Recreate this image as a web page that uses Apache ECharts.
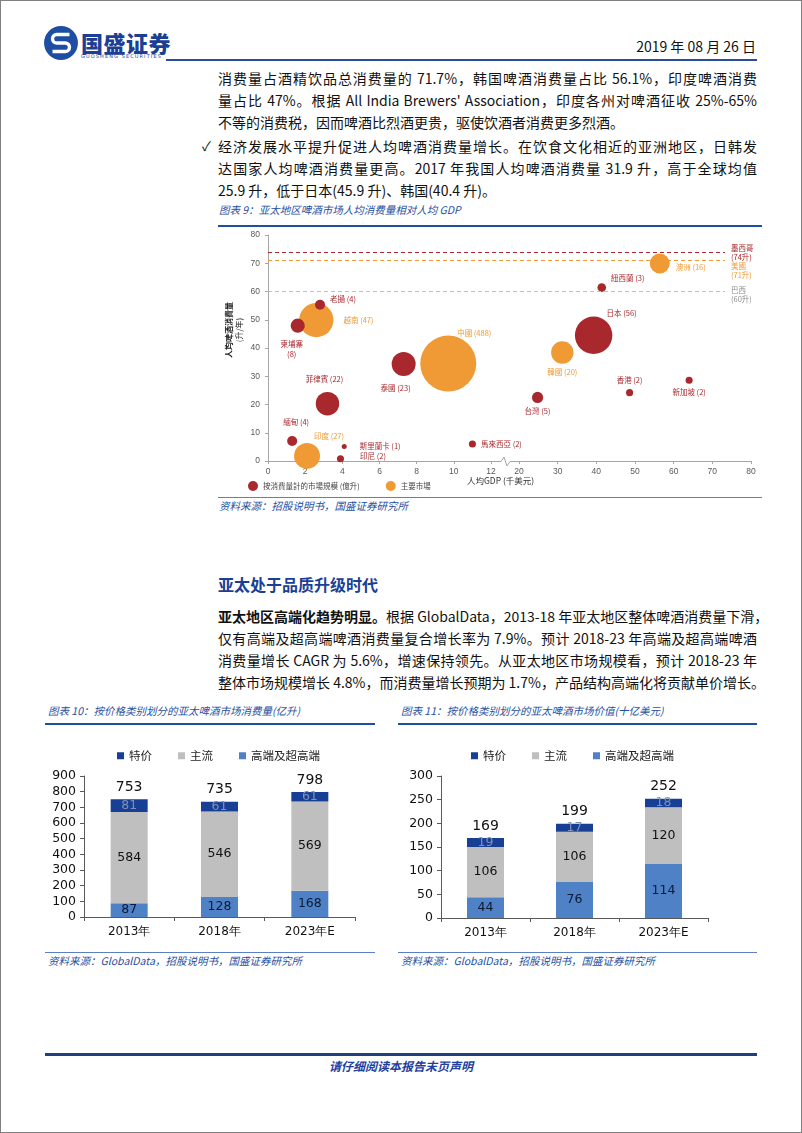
<!DOCTYPE html>
<html>
<head>
<meta charset="utf-8">
<script src="https://cdn.jsdelivr.net/npm/echarts@6/dist/echarts.min.js"></script>
<style>
  body { margin: 0; background: #fff; }
  .page { position: relative; width: 802px; height: 1133px; overflow: hidden;
          font-family: "Noto Sans CJK SC", sans-serif; color: #111; }
  .frame { position: absolute; left: 0; top: 0; width: 800px; height: 1131px; border: 1px solid #808080; }
  .abs { position: absolute; white-space: nowrap; }
  .txt { font-size: 14px; line-height: 20px; }
  .just { width: 539px; text-align: justify; text-align-last: justify; }
  .ftitle { font-size: 10.5px; line-height: 14px; color: #1f4f9f; font-style: italic; }
  .rule { position: absolute; background: #1f4f9f; }
  .chart { position: absolute; }
</style>
</head>
<body>
<div class="page">
  <div class="frame"></div>

  <!-- header -->
  <svg class="abs" style="left:43px;top:25px" width="36" height="36" viewBox="0 0 34 34">
    <circle cx="17" cy="17" r="16" fill="#1d4ea3"/>
    <path d="M25 9 H13 a4 4 0 0 0 0 8 H21 a4 4 0 0 1 0 8 H9" fill="none" stroke="#fff" stroke-width="3.2"/>
  </svg>
  <div class="abs" style="left:81px;top:26px;font-size:22px;font-weight:900;color:#1c3f94;letter-spacing:0.5px">国盛证券</div>
  <div class="abs" style="left:81px;top:53px;font-size:5px;color:#1c3f94;letter-spacing:1.1px;font-family:'DejaVu Sans'">GUOSHENG SECURITIES</div>
  <div class="abs txt" style="right:46px;top:36px;font-size:14px">2019 年 08 月 26 日</div>
  <div class="rule" style="left:166px;top:59px;width:591px;height:2px;background:#2a4c9c"></div>

  <!-- body text -->
  <div class="abs txt just" style="left:218px;top:68px">消费量占酒精饮品总消费量的 71.7%，韩国啤酒消费量占比 56.1%，印度啤酒消费</div>
  <div class="abs txt just" style="left:218px;top:90px">量占比 47%。根据 All India Brewers' Association，印度各州对啤酒征收 25%-65%</div>
  <div class="abs txt" style="left:218px;top:112px">不等的消费税，因而啤酒比烈酒更贵，驱使饮酒者消费更多烈酒。</div>
  <div class="abs txt" style="left:202px;top:136px;font-size:13px">✓</div>
  <div class="abs txt just" style="left:218px;top:136px">经济发展水平提升促进人均啤酒消费量增长。在饮食文化相近的亚洲地区，日韩发</div>
  <div class="abs txt just" style="left:218px;top:158px">达国家人均啤酒消费量更高。2017 年我国人均啤酒消费量 31.9 升，高于全球均值</div>
  <div class="abs txt" style="left:218px;top:180px">25.9 升，低于日本(45.9 升)、韩国(40.4 升)。</div>

  <!-- figure 9 -->
  <div class="abs ftitle" style="left:219px;top:203px">图表 9：亚太地区啤酒市场人均消费量相对人均 GDP</div>
  <div class="rule" style="left:218px;top:225px;width:544px;height:1.5px"></div>
  <div id="bubble" class="chart" style="left:210px;top:228px;width:560px;height:268px"></div>
  <div class="rule" style="left:218px;top:497px;width:544px;height:1px;background:#5b7fc0"></div>
  <div class="abs ftitle" style="left:219px;top:499px">资料来源：招股说明书，国盛证券研究所</div>

  <!-- section -->
  <div class="abs" style="left:218px;top:574px;font-size:16px;line-height:20px;font-weight:700;color:#1a3f94">亚太处于品质升级时代</div>
  <div class="abs txt just" style="left:218px;top:606px"><b>亚太地区高端化趋势明显。</b>根据 GlobalData，2013-18 年亚太地区整体啤酒消费量下滑，</div>
  <div class="abs txt just" style="left:218px;top:628px">仅有高端及超高端啤酒消费量复合增长率为 7.9%。预计 2018-23 年高端及超高端啤酒</div>
  <div class="abs txt just" style="left:218px;top:650px">消费量增长 CAGR 为 5.6%，增速保持领先。从亚太地区市场规模看，预计 2018-23 年</div>
  <div class="abs txt just" style="left:218px;top:672px">整体市场规模增长 4.8%，而消费量增长预期为 1.7%，产品结构高端化将贡献单价增长。</div>

  <!-- figure 10 / 11 -->
  <div class="abs ftitle" style="left:48px;top:704px">图表 10：按价格类别划分的亚太啤酒市场消费量(亿升)</div>
  <div class="rule" style="left:45px;top:723px;width:330px;height:1.5px"></div>
  <div id="vol" class="chart" style="left:40px;top:730px;width:345px;height:220px"></div>
  <div class="rule" style="left:45px;top:952px;width:330px;height:1px;background:#5b7fc0"></div>
  <div class="abs ftitle" style="left:48px;top:954px">资料来源：GlobalData，招股说明书，国盛证券研究所</div>

  <div class="abs ftitle" style="left:401px;top:704px">图表 11：按价格类别划分的亚太啤酒市场价值(十亿美元)</div>
  <div class="rule" style="left:398px;top:723px;width:359px;height:1.5px"></div>
  <div id="val" class="chart" style="left:395px;top:730px;width:345px;height:220px"></div>
  <div class="rule" style="left:398px;top:952px;width:359px;height:1px;background:#5b7fc0"></div>
  <div class="abs ftitle" style="left:401px;top:954px">资料来源：GlobalData，招股说明书，国盛证券研究所</div>

  <!-- footer -->
  <div class="rule" style="left:45px;top:1053px;width:712px;height:3px;background:#1f3f7f"></div>
  <div class="abs" style="left:0;width:802px;top:1058px;text-align:center;font-size:12px;line-height:16px;font-style:italic;font-weight:700;color:#1f3f9f">请仔细阅读本报告末页声明</div>
</div>

<script>
// ---- 图表9 数据 ----
const redNames   = ['老撾', '柬埔寨', '菲律賓', '泰國', '緬甸', '斯里蘭卡', '印尼', '馬來西亞', '台灣', '香港', '新加坡', '日本', '紐西蘭'];
const redGdp     = [2.8, 1.6, 3.2, 7.3, 1.3, 4.1, 3.9, 11.0, 24.8, 48.6, 64.0, 39.3, 41.4];
const redPerCap  = [55.3, 47.9, 20.3, 34.3, 7.1, 5.1, 0.8, 6.0, 22.5, 24.2, 28.6, 44.5, 61.4];
const redVolume  = [4, 8, 22, 23, 4, 1, 2, 2, 5, 2, 2, 56, 3];

const mainNames  = ['越南', '中國', '印度', '韓國', '澳洲'];
const mainGdp    = [2.6, 9.7, 2.1, 31.2, 56.4];
const mainPerCap = [49.9, 34.5, 1.8, 38.4, 69.9];
const mainVolume = [47, 488, 27, 20, 16];

const refNames   = ['墨西哥', '美國', '巴西'];
const refValues  = [74, 71, 60];

// ---- 图表10/11 数据 ----
const years       = ['2013年', '2018年', '2023年E'];
const volValue    = [81, 61, 61];     // 特价
const volMain     = [584, 546, 569];  // 主流
const volPremium  = [87, 128, 168];   // 高端及超高端
const volTotal    = [753, 735, 798];
const valValue    = [19, 17, 18];
const valMain     = [106, 106, 120];
const valPremium  = [44, 76, 114];
const valTotal    = [169, 199, 252];

const RED = '#a8282d', ORANGE = '#ef9a35';
const CJK_TC = '"Noto Sans CJK TC", sans-serif';

// 标签摆放 [position, distance, dx, dy]
const labelPlace = {
  '老撾': ['right', 5, 0, -6], '柬埔寨': ['bottom', 6, -6, 0], '菲律賓': ['top', 8, -3, 0],
  '泰國': ['bottom', 7, -8, 0], '緬甸': ['top', 9, 4, 0], '斯里蘭卡': ['right', 13, 0, 0],
  '印尼': ['right', 16, 0, -3], '馬來西亞': ['right', 5, 0, 0], '台灣': ['bottom', 3, 0, 0],
  '香港': ['top', 4, 0, 0], '新加坡': ['bottom', 3, 0, 0], '日本': ['top', -2, 28, 0],
  '紐西蘭': ['right', 5, 0, -9], '越南': ['right', 10, 0, 0], '中國': ['top', -3, 26, 0],
  '印度': ['top', 2, 22, 0], '韓國': ['bottom', 3, 0, 0], '澳洲': ['right', 6, 0, 4]
};

function points(names, gdp, pc, vol, color, inFirst) {
  const out = [];
  names.forEach((n, i) => {
    if ((gdp[i] <= 12) !== inFirst) return;
    const p = labelPlace[n];
    const text = n === '柬埔寨' ? n + '\n(' + vol[i] + ')' : n + ' (' + vol[i] + ')';
    out.push({
      name: n, value: [gdp[i], pc[i], vol[i]],
      label: { show: true, formatter: text, position: p[0], distance: p[1],
               color: color, fontSize: 7.5, fontFamily: CJK_TC, lineHeight: 10 }
    });
  });
  return out;
}

const bubbleSize = d => Math.min(5 * Math.sqrt(d[2]), 56);
const bubbleSeries = (name, color, data, idx, z) => ({
  name: name, type: 'scatter', xAxisIndex: idx, yAxisIndex: idx, data: data, z: z,
  symbolSize: bubbleSize, itemStyle: { color: color, opacity: 1 },
  labelLayout: p => {
    const o = labelPlace[data[p.dataIndex].name];
    return { dx: o[2], dy: o[3], hideOverlap: false };
  }
});

const gridTop = 7, gridH = 226;
const axisGray = '#a6a6a6';
const tickLabel = { color: '#595959', fontSize: 8.5, fontFamily: 'Liberation Sans' };

const bubbleChart = echarts.init(document.getElementById('bubble'));
bubbleChart.setOption({
  animation: false,
  grid: [
    { left: 58, top: gridTop, width: 223, height: gridH },
    { left: 309, top: gridTop, width: 232, height: gridH },
    { left: 58, top: gridTop, width: 457, height: gridH }
  ],
  xAxis: [
    { gridIndex: 0, type: 'value', min: 0, max: 12, interval: 2, splitLine: { show: false },
      axisLine: { lineStyle: { color: axisGray } }, axisTick: { show: true, length: 3, lineStyle: { color: axisGray } },
      axisLabel: Object.assign({ margin: 6 }, tickLabel) },
    { gridIndex: 1, type: 'value', min: 20, max: 80, interval: 10, splitLine: { show: false },
      axisLine: { lineStyle: { color: axisGray } }, axisTick: { show: true, length: 3, lineStyle: { color: axisGray } },
      axisLabel: Object.assign({ margin: 6 }, tickLabel) },
    { gridIndex: 2, type: 'value', min: 0, max: 1, show: false }
  ],
  yAxis: [
    { gridIndex: 0, type: 'value', min: 0, max: 80, interval: 10, splitLine: { show: false },
      axisLine: { show: true, lineStyle: { color: axisGray } }, axisTick: { show: true, length: 3, lineStyle: { color: axisGray } },
      axisLabel: Object.assign({ margin: 8 }, tickLabel) },
    { gridIndex: 1, type: 'value', min: 0, max: 80, show: false },
    { gridIndex: 2, type: 'value', min: 0, max: 80, show: false }
  ],
  legend: {
    left: 33, top: 248, itemWidth: 10, itemHeight: 10, itemGap: 26, icon: 'circle',
    data: ['按消費量計的市場規模 (億升)', '主要市場'],
    textStyle: { color: '#444', fontSize: 7.5, fontFamily: CJK_TC }
  },
  graphic: [
    { type: 'polyline', z: 10, shape: { points: [[281, 233.5], [291, 233.5], [294, 229], [297, 238], [300, 233.5], [309, 233.5]] },
      style: { stroke: axisGray, fill: null, lineWidth: 1 } },
    { type: 'text', x: 19, y: 102, rotation: Math.PI / 2,
      style: { text: '人均啤酒消費量', fill: '#222', align: 'center', verticalAlign: 'middle', font: 'bold 8px "Noto Sans CJK TC"' } },
    { type: 'text', x: 29, y: 102, rotation: Math.PI / 2,
      style: { text: '(升/年)', fill: '#222', align: 'center', verticalAlign: 'middle', font: '8px "Noto Sans CJK TC"' } },
    { type: 'text', x: 257, y: 249,
      style: { text: '人均GDP (千美元)', fill: '#333', font: '8.5px "Noto Sans CJK TC"' } }
  ],
  series: [
    bubbleSeries('按消費量計的市場規模 (億升)', RED, points(redNames, redGdp, redPerCap, redVolume, RED, true), 0, 4),
    bubbleSeries('按消費量計的市場規模 (億升)', RED, points(redNames, redGdp, redPerCap, redVolume, RED, false), 1, 4),
    bubbleSeries('主要市場', ORANGE, points(mainNames, mainGdp, mainPerCap, mainVolume, ORANGE, true), 0, 3),
    bubbleSeries('主要市場', ORANGE, points(mainNames, mainGdp, mainPerCap, mainVolume, ORANGE, false), 1, 3),
    {
      type: 'line', xAxisIndex: 2, yAxisIndex: 2, data: [], silent: true, z: 1,
      markLine: {
        symbol: 'none', silent: true,
        data: refValues.map((v, i) => ({
          yAxis: v,
          lineStyle: { type: [4, 3], width: 1, color: [RED, ORANGE, '#bfbfbf'][i] },
          label: { show: true, position: 'end', distance: 6, formatter: refNames[i] + '\n(' + v + '升)',
                   color: [RED, ORANGE, '#8c8c8c'][i], fontSize: 7.5, lineHeight: 9, fontFamily: CJK_TC,
                   offset: [0, [1, 10, 3][i]] }
        }))
      }
    }
  ]
});

// ---- 堆积柱状图 ----
const C_VALUE = '#173f95', C_MAIN = '#bfbfbf', C_PREM = '#4f81c7';
const numFont = 'DejaVu Sans';

function stackOption(cfg) {
  const inner = color => ({ show: true, position: 'inside', color: color, fontSize: 12.5, fontFamily: numFont });
  return {
    animation: false,
    legend: {
      top: 15, left: cfg.legendLeft, itemWidth: 7, itemHeight: 7, itemGap: 26, icon: 'rect',
      data: ['特价', '主流', '高端及超高端'],
      textStyle: { fontSize: 11.5, color: '#222', fontFamily: '"Noto Sans CJK SC"' }
    },
    grid: { left: cfg.left, top: 46, width: cfg.width, height: cfg.height },
    xAxis: {
      type: 'category', data: years,
      axisLine: { lineStyle: { color: '#595959' } },
      axisTick: { show: true, length: 4, lineStyle: { color: '#595959' } },
      axisLabel: { color: '#111', fontSize: 12, fontFamily: numFont, margin: 9 }
    },
    yAxis: {
      type: 'value', min: 0, max: cfg.max, interval: cfg.interval, splitLine: { show: false },
      axisLine: { show: true, lineStyle: { color: '#595959' } },
      axisTick: { show: true, length: 4, lineStyle: { color: '#595959' } },
      axisLabel: { color: '#111', fontSize: 12.5, fontFamily: numFont, margin: 8 }
    },
    series: [
      { name: '高端及超高端', type: 'bar', stack: 's', barWidth: 37, data: cfg.prem,
        itemStyle: { color: C_PREM }, label: inner('#0d1a33') },
      { name: '主流', type: 'bar', stack: 's', data: cfg.main,
        itemStyle: { color: C_MAIN }, label: inner('#111') },
      { name: '特价', type: 'bar', stack: 's', data: cfg.value,
        itemStyle: { color: C_VALUE }, label: inner('#8191b3') },
      { name: 'total', type: 'bar', stack: 's', data: cfg.total.map(() => 0),
        itemStyle: { color: 'transparent' },
        label: { show: true, position: 'top', distance: 5, color: '#111', fontSize: 14, fontFamily: numFont,
                 formatter: p => cfg.total[p.dataIndex] } }
    ]
  };
}

echarts.init(document.getElementById('vol')).setOption(stackOption({
  legendLeft: 72, left: 44, width: 271, height: 141, max: 900, interval: 100,
  prem: volPremium, main: volMain, value: volValue, total: volTotal
}));
echarts.init(document.getElementById('val')).setOption(stackOption({
  legendLeft: 71, left: 46, width: 267, height: 142, max: 300, interval: 50,
  prem: valPremium, main: valMain, value: valValue, total: valTotal
}));
</script>
</body>
</html>
